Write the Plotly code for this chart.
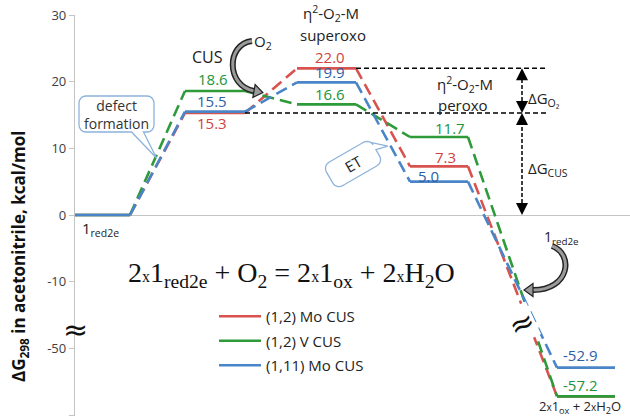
import math
import plotly.graph_objects as go

# ---------------- data ----------------
stages = ["1red2e", "CUS", "superoxo", "peroxo", "2x1ox + 2xH2O"]
series_names = ["(1,2) Mo CUS", "(1,2) V CUS", "(1,11) Mo CUS"]
mo12_dG = [0.0, 15.3, 22.0, 7.3, -57.2]
v12_dG = [0.0, 18.6, 16.6, 11.7, -57.2]
mo111_dG = [0.0, 15.5, 19.9, 5.0, -52.9]
ytick_values = [-60, -50, -10, 0, 10, 20, 30]

# ---------------- layout constants ----------------
W, H = 630, 416
L, T = 75, 15
Y_TOP, Y_BOT = 30.0, -30.15
PPU = (H - T) / (Y_TOP - Y_BOT)          # pixels per axis unit
BREAK_SHIFT = 30                          # broken axis: values below -30 shifted up by 30

def axis_y(v):
    return v + BREAK_SHIFT if v < -30 else v

def py2y(py):
    return Y_TOP - (py - T) / PPU

def py2paper(py):
    return 1 - (py - T) / (H - T)

def px2paper(px):
    return (px - L) / (W - L)

# stage horizontal extents (x axis is in pixel-like units)
stage_x0 = [75, 185, 297, 410, 557]
stage_x1 = [130, 245, 356, 468, 615]

RED, GREEN, BLUE = "#d8534f", "#2e9a3a", "#4a86c7"
RED_T, GREEN_T, BLUE_T = "#d2423e", "#23933a", "#2d5ea8"
FONT = "Open Sans"

series = [
    (series_names[0], mo12_dG, RED),
    (series_names[1], v12_dG, GREEN),
    (series_names[2], mo111_dG, BLUE),
]

fig = go.Figure()
for name, vals, col in series:
    ys = [axis_y(v) for v in vals]
    lx, ly, cx, cy = [], [], [], []
    for i, yv in enumerate(ys):
        lx += [stage_x0[i], stage_x1[i], None]
        ly += [yv, yv, None]
        if i < len(ys) - 1:
            cx += [stage_x1[i], stage_x0[i + 1], None]
            cy += [yv, ys[i + 1], None]
    fig.add_trace(go.Scatter(x=cx, y=cy, mode="lines", showlegend=False,
                             line=dict(color=col, width=2.6, dash="12px,6px"),
                             hoverinfo="skip", legendgroup=name))
    fig.add_trace(go.Scatter(x=lx, y=ly, mode="lines", name=name,
                             line=dict(color=col, width=2.6),
                             legendgroup=name))

shapes = []
annotations = []

def txt(x, y, text, size=14, color="#222", yshift=0, font=FONT, **kw):
    annotations.append(dict(x=x, y=y, text=text, showarrow=False, yshift=yshift,
                            font=dict(family=font, size=size, color=color), **kw))

def ptxt(px, py, text, size=14, color="#222", font=FONT, xanchor="center", **kw):
    annotations.append(dict(x=px2paper(px), y=py2paper(py), xref="paper", yref="paper",
                            text=text, showarrow=False, xanchor=xanchor, yanchor="middle",
                            font=dict(family=font, size=size, color=color), **kw))

# value labels (placed relative to the level they label)
value_labels = [
    # (values, stage index, x, yshift, color)
    (v12_dG, 1, 213, 12, GREEN_T), (mo111_dG, 1, 212, 11, BLUE_T), (mo12_dG, 1, 212, -10, RED_T),
    (mo12_dG, 2, 330, 11, RED_T), (mo111_dG, 2, 330, 10, BLUE_T), (v12_dG, 2, 330, 10, GREEN_T),
    (v12_dG, 3, 450, 9, GREEN_T), (mo12_dG, 3, 445, 9, RED_T), (mo111_dG, 3, 428, 6, BLUE_T),
    (mo111_dG, 4, 580, 13, BLUE_T), (v12_dG, 4, 580, 11, GREEN_T),
]
for vals, si, x, ys_, col in value_labels:
    txt(x, axis_y(vals[si]), f"{vals[si]:.1f}", size=15, color=col, yshift=ys_)

# reference dashed lines at superoxo and CUS levels (Mo (1,2))
for v, x0 in [(mo12_dG[2], 356), (mo12_dG[1], 245)]:
    shapes.append(dict(type="line", x0=x0, x1=548, y0=v, y1=v, xref="x", yref="y",
                       line=dict(color="black", width=1.5, dash="5px,3px")))
# vertical double arrows
AX = 522
for y0, y1 in [(mo12_dG[1], mo12_dG[2]), (0.0, mo12_dG[1])]:
    shapes.append(dict(type="line", x0=AX, x1=AX, y0=y0 + 0.9, y1=y1 - 0.9, xref="x", yref="y",
                       line=dict(color="black", width=1.5, dash="4px,2px")))
    for tip, d in [(y1, 1), (y0, -1)]:
        annotations.append(dict(x=AX, y=tip, ax=0, ay=d * 9, xref="x", yref="y",
                                text="", showarrow=True, arrowhead=2, arrowsize=1.6,
                                arrowwidth=1.5, arrowcolor="black"))

# stage texts
ptxt(207, 57, "CUS", size=16)
ptxt(331, 13, "η<sup>2</sup>-O<sub>2</sub>-M", size=15)
ptxt(333, 35, "superoxo", size=15)
ptxt(465, 84, "η<sup>2</sup>-O<sub>2</sub>-M", size=15)
ptxt(463, 105, "peroxo", size=15)
ptxt(526, 99, "ΔG<sub>O₂</sub>", size=15, xanchor="left")
ptxt(526, 169, "ΔG<sub>CUS</sub>", size=15, xanchor="left")
ptxt(263, 42, "O<sub>2</sub>", size=15)
ptxt(80, 229, "1<sub>red2e</sub>", size=15, xanchor="left")
ptxt(561, 237, "1<sub>red2e</sub>", size=14)
ptxt(580, 407, "2<span style='font-size:10px'>x</span>1<sub>ox</sub> + 2<span style='font-size:10px'>x</span>H<sub>2</sub>O",
     size=13)
small_x = "<span style='font-size:16px'>x</span>"
ptxt(291, 274,
     f"2{small_x}1<sub>red2e</sub> + O<sub>2</sub> = 2{small_x}1<sub>ox</sub> + 2{small_x}H<sub>2</sub>O",
     size=28, font="Liberation Serif", color="#111")
# y-axis title
ptxt(19, 257, "<b>ΔG<sub>298</sub> in acetonitrile, kcal/mol</b>", size=17, color="#111", textangle=-90)

# ---- helpers for decorative paths (pixel -> data) ----
def P(px, py):
    return f"{px:.2f},{py2y(py):.4f}"

def poly_path(pts, close=True):
    s = "M " + " L ".join(P(x, y) for x, y in pts)
    return s + (" Z" if close else "")

def curved_arrow(p0, c1, c2, p1):
    path = f"M {P(*p0)} C {P(*c1)} {P(*c2)} {P(*p1)}"
    shapes.append(dict(type="path", path=path, xref="x", yref="y",
                       line=dict(color="#222", width=6)))
    shapes.append(dict(type="path", path=path, xref="x", yref="y",
                       line=dict(color="#9a9a9a", width=3)))
    dx, dy = p1[0] - c2[0], p1[1] - c2[1]
    n = math.hypot(dx, dy)
    dx, dy = dx / n, dy / n
    tip = (p1[0] + dx * 9, p1[1] + dy * 9)
    bl = (p1[0] - dy * 6.5, p1[1] + dx * 6.5)
    br = (p1[0] + dy * 6.5, p1[1] - dx * 6.5)
    shapes.append(dict(type="path", path=poly_path([bl, tip, br]), xref="x", yref="y",
                       fillcolor="#9a9a9a", line=dict(color="#222", width=1.2)))

curved_arrow((252, 41), (226, 44), (226, 86), (254, 91))
curved_arrow((552, 246), (574, 254), (570, 290), (533, 290))

def rounded_box(cx, cy, w, h, r, ang_deg, tail_base, tail_tip):
    th = math.radians(ang_deg)
    def rot(lx, ly):
        return (cx + lx * math.cos(th) + ly * math.sin(th),
                cy - lx * math.sin(th) + ly * math.cos(th))
    pts = []
    hw, hh = w / 2, h / 2
    corners = [(hw - r, -hh + r, -90), (hw - r, hh - r, 0), (-hw + r, hh - r, 90), (-hw + r, -hh + r, 180)]
    for k, (ccx, ccy, a0) in enumerate(corners):
        for j in range(7):
            a = math.radians(a0 + 90 * j / 6)
            pts.append((ccx + r * math.cos(a), ccy + r * math.sin(a)))
        if k == tail_base[0]:
            pts += [tail_base[1], tail_tip, tail_base[2]]
    return [rot(*p) for p in pts]

# "defect formation" callout (tail on bottom edge, inserted after bottom-right corner)
box1 = rounded_box(116.5, 114, 75, 36, 7, 0, (1, (27, 18), (15, 18)), (40, 44))
shapes.append(dict(type="path", path=poly_path(box1), xref="x", yref="y",
                   fillcolor="white", line=dict(color="#8db3dc", width=1.3)))
txt(116.5, py2y(114), "defect<br>formation", size=14, color="#333")
# "ET" callout, rotated
box2 = rounded_box(353, 164, 54, 27, 7, 30, (0, (27, -9), (27, -1)), (39, 2))
shapes.append(dict(type="path", path=poly_path(box2), xref="x", yref="y",
                   fillcolor="white", line=dict(color="#8db3dc", width=1.3)))
annotations.append(dict(x=353, y=py2y(164), text="ET", showarrow=False, textangle=-30,
                        font=dict(family=FONT, size=15, color="#222")))

# axis break marks
annotations.append(dict(x=75, y=py2y(329), text="≈", showarrow=False,
                        font=dict(family="DejaVu Sans", size=30, color="#111")))
annotations.append(dict(x=521, y=py2y(323), text="≈", showarrow=False, textangle=-25,
                        bgcolor="white", borderpad=0,
                        font=dict(family="DejaVu Sans", size=30, color="#111")))

fig.update_layout(
    width=W, height=H,
    margin=dict(l=L, r=0, t=T, b=0),
    paper_bgcolor="white", plot_bgcolor="white",
    font=dict(family=FONT, size=13, color="#333"),
    xaxis=dict(range=[L, W], visible=False, fixedrange=True),
    yaxis=dict(range=[Y_BOT, Y_TOP],
               tickvals=[axis_y(v) for v in ytick_values],
               ticktext=[str(v) for v in ytick_values],
               showgrid=False, zeroline=True, zerolinecolor="#c4c4c4", zerolinewidth=1.3,
               showline=True, linecolor="#c4c4c4", linewidth=1.3,
               ticks="outside", ticklen=5, tickcolor="#c4c4c4",
               tickfont=dict(family=FONT, size=13, color="#404040")),
    legend=dict(x=px2paper(214), y=py2paper(300), xanchor="left", yanchor="top",
                bgcolor="rgba(0,0,0,0)", font=dict(family=FONT, size=15, color="#222"),
                tracegroupgap=2, itemwidth=42),
    shapes=shapes,
    annotations=annotations,
    showlegend=True,
)

fig.write_html("out.html", config={"displayModeBar": False},
               post_script="document.body.style.margin='0px';")
